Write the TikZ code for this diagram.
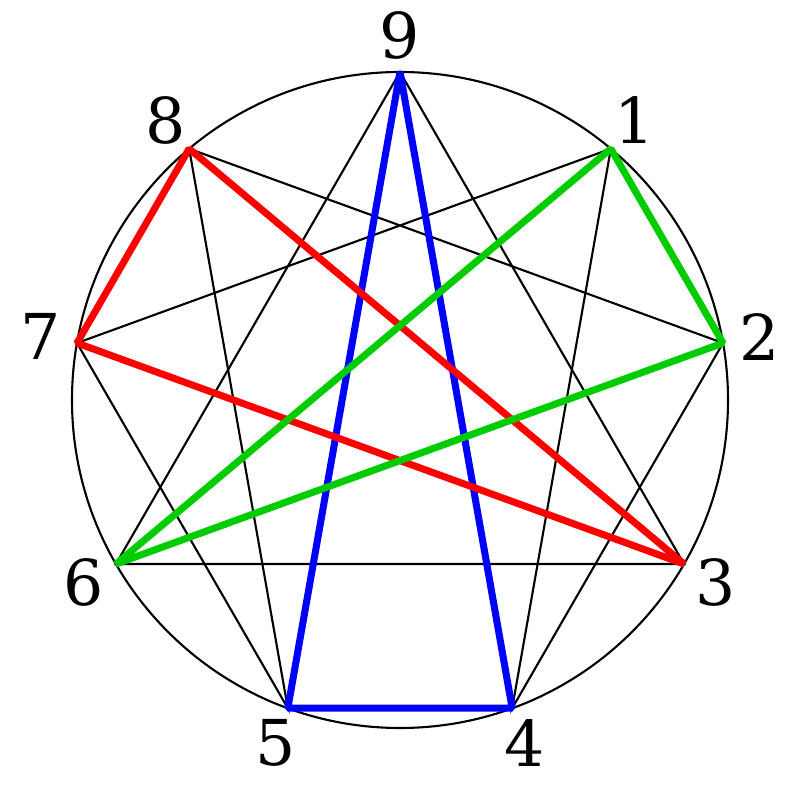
\documentclass[tikz,border=0pt]{standalone}
\usepackage{fontspec}
\setmainfont{DejaVu Serif}
\usetikzlibrary{calc}
\definecolor{enneagreen}{RGB}{0,204,0}

\begin{document}
\begin{tikzpicture}[
	thinline/.style={black, line width=0.6pt},
	thickline/.style={line width=2pt, line join=bevel},
	numlabel/.style={inner sep=0pt, font=\fontsize{18}{20}\selectfont},
	]
	\useasboundingbox (-4,-4) rectangle (4,4);
	\draw[thinline] (0,0) circle (3.28cm);
	\foreach \n in {1,...,9} {
		\coordinate (p\n) at ({90-40*\n}:3.28);
		\node[numlabel] (l\n) at ({90-40*\n}:3.65) {\n};
	}
	% hexad and inner triangle
	\draw[thinline] (p1) -- (p4) -- (p2) -- (p8) -- (p5) -- (p7) -- cycle;
	\draw[thinline] (p9) -- (p3) -- (p6) -- cycle;
	% coloured triangles
	\draw[thickline, blue] (p9) -- (p5) -- (p4) -- cycle;
	\draw[thickline, red] (p8) -- (p7) -- (p3) -- cycle;
	\draw[thickline, enneagreen] (p1) -- (p2) -- (p6) -- cycle;
\end{tikzpicture}
\end{document}
